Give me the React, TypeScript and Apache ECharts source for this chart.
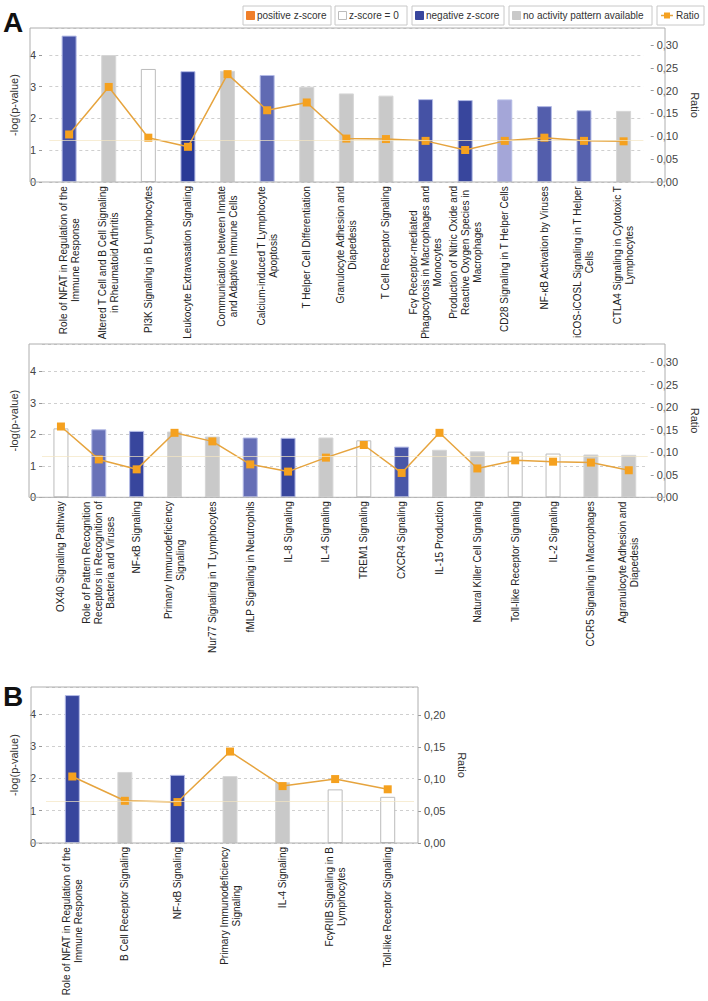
import React, { useEffect, useRef } from "react";
import * as echarts from "echarts";

const FONT = "'Liberation Sans', Arial, sans-serif";

// ---------- Panel A, upper chart ----------
const catsA1 = [
  "Role of NFAT in Regulation of the\nImmune Response",
  "Altered T Cell and B Cell Signaling\nin Rheumatoid Arthritis",
  "PI3K Signaling in B Lymphocytes",
  "Leukocyte Extravasation Signaling",
  "Communication between Innate\nand Adaptive Immune Cells",
  "Calcium-induced T Lymphocyte\nApoptosis",
  "T Helper Cell Differentiation",
  "Granulocyte Adhesion and\nDiapedesis",
  "T Cell Receptor Signaling",
  "Fcγ Receptor-mediated\nPhagocytosis in Macrophages and\nMonocytes",
  "Production of Nitric Oxide and\nReactive Oxygen Species in\nMacrophages",
  "CD28 Signaling in T Helper Cells",
  "NF-κB Activation by Viruses",
  "iCOS-iCOSL Signaling in T Helper\nCells",
  "CTLA4 Signaling in Cytotoxic T\nLymphocytes",
];
const logpA1 = [4.61, 4.0, 3.56, 3.49, 3.5, 3.37, 3.0, 2.79, 2.72, 2.61, 2.58, 2.6, 2.39, 2.26, 2.24];
const ratioA1 = [0.104, 0.208, 0.097, 0.077, 0.236, 0.157, 0.174, 0.095, 0.094, 0.09, 0.07, 0.09, 0.097, 0.09, 0.089];
// null = no activity pattern, 0 = z-score 0, negative = negative z-score
const zA1 = [-2.7, null, 0, -3.3, null, -2.1, null, null, null, -2.7, -3.0, -0.6, -2.4, -2.3, null];

// ---------- Panel A, lower chart ----------
const catsA2 = [
  "OX40 Signaling Pathway",
  "Role of Pattern Recognition\nReceptors in Recognition of\nBacteria and Viruses",
  "NF-κB Signaling",
  "Primary Immunodeficiency\nSignaling",
  "Nur77 Signaling in T Lymphocytes",
  "fMLP Signaling in Neutrophils",
  "IL-8 Signaling",
  "IL-4 Signaling",
  "TREM1 Signaling",
  "CXCR4 Signaling",
  "IL-15 Production",
  "Natural Killer Cell Signaling",
  "Toll-like Receptor Signaling",
  "IL-2 Signaling",
  "CCR5 Signaling in Macrophages",
  "Agranulocyte Adhesion and\nDiapedesis",
];
const logpA2 = [2.19, 2.16, 2.11, 2.09, 1.93, 1.9, 1.89, 1.9, 1.81, 1.61, 1.51, 1.46, 1.45, 1.39, 1.36, 1.35];
const ratioA2 = [0.157, 0.084, 0.062, 0.143, 0.124, 0.073, 0.057, 0.088, 0.116, 0.054, 0.143, 0.064, 0.082, 0.079, 0.077, 0.06];
const zA2 = [0, -1.9, -3.0, null, null, -2.0, -3.0, null, 0, -2.6, null, null, 0, 0, null, null];

// ---------- Panel B ----------
const catsB = [
  "Role of NFAT in Regulation of the\nImmune Response",
  "B Cell Receptor Signaling",
  "NF-κB Signaling",
  "Primary Immunodeficiency\nSignaling",
  "IL-4 Signaling",
  "FcγRIIB Signaling in B\nLymphocytes",
  "Toll-like Receptor Signaling",
];
const logpB = [4.58, 2.2, 2.11, 2.07, 1.88, 1.66, 1.43];
const ratioB = [0.104, 0.066, 0.064, 0.143, 0.089, 0.1, 0.084];
const zB = [-3.0, null, -3.0, null, null, 0, 0];

const THRESHOLD = 1.3; // -log(0.05)

const legendItems = [
  { label: "positive z-score", kind: "pos" },
  { label: "z-score = 0", kind: "zero" },
  { label: "negative z-score", kind: "neg" },
  { label: "no activity pattern available", kind: "none" },
  { label: "Ratio", kind: "ratio" },
];

// layout (pixels)
const LAYOUT = [
  { frameL: 30, frameR: 665, top: 28, bottom: 182, gridL: 37.3, gridR: 657.7, yMax: 4.85, rMax: 0.337 },
  { frameL: 29, frameR: 665, top: 344, bottom: 497.3, gridL: 29, gridR: 662, yMax: 4.87, rMax: 0.34 },
  { frameL: 31, frameR: 418, top: 687, bottom: 843, gridL: 35, gridR: 414, yMax: 4.83, rMax: 0.244 },
];
const LEGEND_BOX = [
  [243, 331],
  [335, 407],
  [412, 504],
  [509, 652],
  [657, 704],
];

const LIGHT = [168, 170, 218];
const DARK = [42, 58, 150];
function negColor(z: number) {
  const t = Math.min(1, Math.max(0, (-z - 0.5) / 2.8));
  const c = LIGHT.map((l, i) => Math.round(l + (DARK[i] - l) * t));
  return `rgb(${c[0]},${c[1]},${c[2]})`;
}
function barStyle(z: number | null) {
  if (z === null) return { color: "#c9c9c9", borderColor: "#d6d6d6", borderWidth: 1 };
  if (z === 0) return { color: "#ffffff", borderColor: "#bcbcbc", borderWidth: 1 };
  if (z > 0) return { color: "#f07f2a", borderColor: "#f5b27f", borderWidth: 1 };
  return { color: negColor(z), borderColor: "#b4bbe6", borderWidth: 1 };
}

const labelFormatter = (v: string) =>
  v
    .split("\n")
    .map((l) => `{c|${l}}`)
    .join("\n");

function buildOption() {
  const datasets = [
    { cats: catsA1, logp: logpA1, ratio: ratioA1, z: zA1 },
    { cats: catsA2, logp: logpA2, ratio: ratioA2, z: zA2 },
    { cats: catsB, logp: logpB, ratio: ratioB, z: zB },
  ];
  const grid: any[] = [];
  const xAxis: any[] = [];
  const yAxis: any[] = [];
  const series: any[] = [];
  const graphic: any[] = [];

  datasets.forEach((d, i) => {
    const g = LAYOUT[i];
    grid.push({
      left: g.gridL,
      top: g.top,
      width: g.gridR - g.gridL,
      height: g.bottom - g.top,
      containLabel: false,
    });
    xAxis.push({
      type: "category",
      gridIndex: i,
      data: d.cats,
      axisLine: { show: false },
      axisTick: { show: false },
      axisLabel: {
        interval: 0,
        rotate: 90,
        margin: 4,
        formatter: labelFormatter,
        rich: {
          c: { align: "center", fontSize: 10, lineHeight: 12, fontFamily: FONT, color: "#222" },
        },
      },
    });
    yAxis.push({
      type: "value",
      gridIndex: i,
      position: "left",
      offset: g.gridL - g.frameL,
      min: 0,
      max: g.yMax,
      interval: 1,
      name: "-log(p-value)",
      nameLocation: "middle",
      nameGap: 10,
      nameTextStyle: { fontSize: 11, fontFamily: FONT, color: "#333" },
      axisLine: { show: false },
      axisTick: { show: true, length: 3, lineStyle: { color: "#999" } },
      axisLabel: {
        fontSize: 11,
        fontFamily: FONT,
        color: "#444",
        margin: 6,
        showMaxLabel: false,
        formatter: (v: number) => String(Math.round(v)),
      },
      splitLine: { show: true, lineStyle: { color: "#cfcfcf", type: [3, 3], width: 1 } },
    });
    yAxis.push({
      type: "value",
      gridIndex: i,
      position: "right",
      offset: g.frameR - g.gridR,
      min: 0,
      max: g.rMax,
      interval: 0.05,
      name: "Ratio",
      nameLocation: "middle",
      nameRotate: -90,
      nameGap: 36,
      nameTextStyle: { fontSize: 11, fontFamily: FONT, color: "#333" },
      axisLine: { show: false },
      axisTick: { show: true, length: 3, lineStyle: { color: "#999" } },
      axisLabel: {
        fontSize: 11,
        fontFamily: FONT,
        color: "#444",
        margin: 6,
        showMaxLabel: false,
        formatter: (v: number) => v.toFixed(2).replace(".", ","),
      },
      splitLine: { show: false },
    });
    series.push({
      type: "bar",
      xAxisIndex: i,
      yAxisIndex: i * 2,
      barWidth: 15,
      data: d.logp.map((v, k) => ({ value: v, itemStyle: barStyle(d.z[k]) })),
      markLine: {
        silent: true,
        symbol: "none",
        label: { show: false },
        lineStyle: { color: "#f3e6c2", width: 1, type: "solid", opacity: 0.7 },
        data: [{ yAxis: THRESHOLD }],
      },
      z: 2,
    });
    series.push({
      type: "line",
      xAxisIndex: i,
      yAxisIndex: i * 2 + 1,
      data: d.ratio,
      symbol: "rect",
      symbolSize: 8,
      lineStyle: { color: "#e6a43e", width: 1.5 },
      itemStyle: { color: "#f5a11f" },
      z: 4,
    });
    graphic.push({
      type: "rect",
      shape: { x: g.frameL, y: g.top, width: g.frameR - g.frameL, height: g.bottom - g.top },
      style: { fill: "none", stroke: "#aeaeae", lineWidth: 1 },
      z: 5,
      silent: true,
    });
  });

  // panel letters
  graphic.push({
    type: "text",
    x: 3,
    y: 22,
    style: { text: "A", fontSize: 28, fontWeight: "bold", fontFamily: FONT, fill: "#111", verticalAlign: "middle" },
  });
  graphic.push({
    type: "text",
    x: 3,
    y: 696,
    style: { text: "B", fontSize: 28, fontWeight: "bold", fontFamily: FONT, fill: "#111", verticalAlign: "middle" },
  });

  // legend
  const ly = 6;
  const lh = 19;
  const cy = ly + lh / 2;
  legendItems.forEach((it, k) => {
    const [x0, x1] = LEGEND_BOX[k];
    graphic.push({
      type: "rect",
      shape: { x: x0, y: ly, width: x1 - x0, height: lh },
      style: { fill: "#fff", stroke: "#c8c8c8", lineWidth: 1 },
    });
    let textX = x0 + 14;
    if (it.kind === "ratio") {
      graphic.push({
        type: "line",
        shape: { x1: x0 + 4, y1: cy, x2: x0 + 16, y2: cy },
        style: { stroke: "#e6a43e", lineWidth: 1.5 },
      });
      graphic.push({
        type: "rect",
        shape: { x: x0 + 7, y: cy - 3, width: 6, height: 6 },
        style: { fill: "#f5a11f" },
      });
      textX = x0 + 19;
    } else {
      const st = barStyle(it.kind === "pos" ? 1 : it.kind === "zero" ? 0 : it.kind === "neg" ? -3 : null);
      graphic.push({
        type: "rect",
        shape: { x: x0 + 3.5, y: cy - 4, width: 8, height: 8 },
        style: { fill: st.color, stroke: it.kind === "zero" ? "#bcbcbc" : st.color, lineWidth: 1 },
      });
    }
    graphic.push({
      type: "text",
      x: textX,
      y: cy,
      style: { text: it.label, fontSize: 10, fontFamily: FONT, fill: "#333", verticalAlign: "middle" },
    });
  });

  return {
    animation: false,
    backgroundColor: "#ffffff",
    grid,
    xAxis,
    yAxis,
    series,
    graphic,
  };
}

export default function App() {
  const ref = useRef<HTMLDivElement>(null);
  useEffect(() => {
    if (!ref.current) return;
    const chart = echarts.init(ref.current, undefined, { renderer: "svg" });
    chart.setOption(buildOption() as any);
    return () => chart.dispose();
  }, []);
  return (
    <div
      ref={ref}
      style={{ position: "absolute", left: 0, top: 0, width: 708, height: 1001, background: "#fff" }}
    />
  );
}
